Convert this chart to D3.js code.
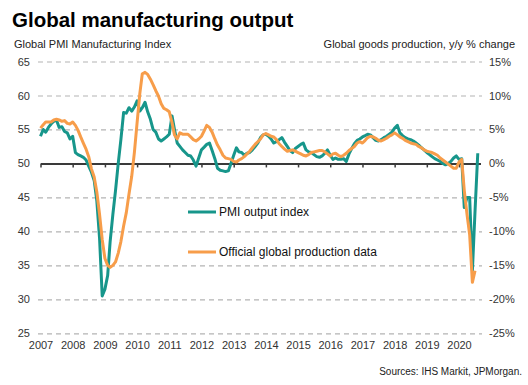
<!DOCTYPE html>
<html>
<head>
<meta charset="utf-8">
<script src="https://cdn.jsdelivr.net/npm/d3@7"></script>
<style>
  body { margin: 0; background: #fff; }
  svg { font-family: "Liberation Sans", Arial, sans-serif; }
</style>
</head>
<body>
<svg id="chart" width="528" height="385"></svg>
<script>
// monthly, from Jan 2007
var pmiOutput = [
  54.0, 55.0, 54.6, 55.3, 55.8, 56.2, 56.4, 55.3, 55.4, 54.7, 54.5, 53.6,
  54.0, 51.6, 51.3, 51.1, 50.9, 50.5, 49.6, 48.7, 47.5, 44.5, 39.0, 30.5,
  31.5, 33.5, 38.5, 42.5, 46.0, 50.0, 53.5, 57.5, 57.4, 58.2, 57.7, 58.3,
  59.2, 57.7, 58.2, 59.0, 57.6, 56.5, 55.0, 54.6, 53.6, 53.3, 53.6, 53.9,
  54.3, 57.0, 55.0, 53.0, 52.5, 52.0, 51.6, 51.2, 51.1, 50.5, 49.6, 50.8,
  52.0, 52.4, 52.8, 53.0, 51.9, 50.7, 49.3, 49.0, 48.9, 48.8, 48.9, 50.0,
  51.2, 52.3, 51.7, 51.6, 51.2, 51.5, 51.6, 52.0, 52.5, 53.0, 53.8, 54.2,
  54.3, 54.0, 53.6, 53.0, 53.2, 53.5, 53.8, 53.1, 52.5, 51.9, 51.6, 52.2,
  52.5, 52.8, 53.0, 52.0, 51.7, 51.6, 51.3, 51.0, 50.9, 51.1, 51.5, 52.0,
  51.2, 50.6, 50.8, 50.6, 50.6, 50.7, 50.3, 51.4, 52.2, 52.9, 53.4, 53.6,
  53.9, 54.1, 54.3, 54.2, 53.8, 53.4, 53.3, 53.5, 53.8, 54.0, 54.3, 54.6,
  55.2, 55.6, 54.5, 54.1, 53.8, 53.6, 53.5, 53.3, 53.0, 52.7, 52.3, 52.0,
  51.6, 51.3, 51.0, 50.7, 50.5, 50.3, 50.0, 49.8, 50.0, 50.3, 50.8, 51.1,
  50.6, 50.7, 43.5, 45.0, 45.0, 34.2, 43.0, 51.5
];

// y/y % change, monthly from Jan 2007
var officialProd = [
  5.2, 5.7, 6.1, 6.1, 6.1, 6.4, 6.5, 6.4, 6.2, 6.3, 5.9, 5.8,
  6.1, 5.6, 4.9, 3.9, 3.0, 2.1, 1.0, -0.8, -2.0, -4.2, -7.5, -11.2,
  -14.0, -15.0, -15.3, -15.0, -14.5, -13.2, -11.5, -9.2, -7.2, -4.5, -1.9, 1.6,
  6.0, 10.3, 13.2, 13.4, 13.1, 12.4, 11.6, 10.7, 9.9, 8.8, 8.1, 7.9,
  7.6, 6.0, 4.2, 3.6, 4.5, 4.3, 4.3, 4.3, 3.9, 3.5, 3.3, 3.6,
  4.0, 4.8, 5.6, 5.3, 4.6, 3.6, 2.7, 2.0, 1.2, 0.8, 0.7, 0.6,
  0.3, 0.2, 0.5, 0.7, 1.0, 1.4, 1.8, 2.3, 2.8, 3.2, 3.6, 4.2,
  4.4, 4.2, 4.0, 3.9, 3.5, 2.9, 2.5, 2.1, 1.8, 1.9, 2.0, 1.8,
  1.6, 1.4, 1.2, 1.1, 1.3, 1.6, 1.7, 1.8, 1.9, 1.9, 1.7, 1.4,
  1.1, 1.4, 1.5, 1.2, 1.0, 1.2, 1.5, 1.9, 2.2, 2.5, 3.0, 3.2,
  3.0, 3.4, 3.8, 4.0, 3.9, 3.7, 3.4, 3.3, 3.5, 3.7, 4.0, 4.2,
  4.5, 4.2, 3.9, 3.7, 3.4, 3.2, 3.0, 2.9, 2.8, 2.5, 2.3, 2.0,
  1.8, 1.7, 1.6, 1.4, 1.2, 0.8, 0.5, 0.2, -0.1, -0.4, -0.7, -0.7,
  0.2, 0.6, -4.0, -7.5, -10.5, -17.5, -15.8
];

var yearTicks = [2007, 2008, 2009, 2010, 2011, 2012, 2013, 2014, 2015, 2016, 2017, 2018, 2019, 2020];
var leftTicks = [25, 30, 35, 40, 45, 50, 55, 60, 65];
var rightTicks = [-25, -20, -15, -10, -5, 0, 5, 10, 15];
var seriesNames = ['PMI output index', 'Official global production data'];

var teal = '#17968b';
var orange = '#f79d4a';

var svg = d3.select('#chart');

function monthDate(i) {
  return new Date(2007, i, 1);
}

var xScale = d3.scaleTime()
  .domain([new Date(2007, 0, 1), new Date(2020, 8, 1)])
  .range([40.5, 480.5]);

var yLeft = d3.scaleLinear().domain([25, 65]).range([333.3, 61.5]);
var yRight = d3.scaleLinear().domain([-25, 15]).range([333.3, 61.5]);

// titles
svg.append('text')
  .attr('x', 12).attr('y', 27)
  .style('font-size', '20.5px').style('font-weight', 'bold')
  .attr('fill', '#000')
  .text('Global manufacturing output');

svg.append('text')
  .attr('x', 14).attr('y', 48)
  .style('font-size', '11px').attr('fill', '#222')
  .text('Global PMI Manufacturing Index');

svg.append('text')
  .attr('x', 515).attr('y', 48)
  .attr('text-anchor', 'end')
  .style('font-size', '11px').attr('fill', '#222')
  .text('Global goods production, y/y % change');

// left axis + gridlines
var gLeft = svg.append('g')
  .attr('transform', 'translate(38,0)')
  .call(d3.axisLeft(yLeft).tickValues(leftTicks).tickSize(-444).tickPadding(8));
gLeft.select('.domain').remove();
gLeft.selectAll('.tick line')
  .attr('stroke', '#b4b4b4')
  .attr('stroke-dasharray', '5,4')
  .attr('stroke-width', 1.2)
  .filter(function (d) { return d === 50; }).remove();
gLeft.selectAll('.tick text')
  .style('font-size', '11px').attr('fill', '#333');

// right axis
var gRight = svg.append('g')
  .attr('transform', 'translate(482,0)')
  .call(d3.axisRight(yRight).tickValues(rightTicks).tickSize(0).tickPadding(7)
    .tickFormat(function (d) { return d + '%'; }));
gRight.select('.domain').remove();
gRight.selectAll('.tick text')
  .style('font-size', '11px').attr('fill', '#333');

// axis at 50 with year ticks
var yearDates = yearTicks.map(function (y) { return new Date(y, 0, 1); });
var gAxis = svg.append('g')
  .attr('transform', 'translate(0,' + yLeft(50) + ')')
  .call(d3.axisBottom(xScale).tickValues(yearDates).tickSize(4).tickSizeOuter(0).tickFormat(''));
gAxis.select('.domain').attr('stroke', '#3a3a3a').attr('stroke-width', 2);
gAxis.selectAll('.tick line').attr('stroke', '#3a3a3a').attr('stroke-width', 1.5);

// year labels at bottom
var gYears = svg.append('g')
  .attr('transform', 'translate(0,337)')
  .call(d3.axisBottom(xScale).tickValues(yearDates).tickSize(0).tickPadding(4)
    .tickFormat(d3.timeFormat('%Y')));
gYears.select('.domain').remove();
gYears.selectAll('.tick text')
  .style('font-size', '11px').attr('fill', '#333');

// lines
var pmiLine = d3.line()
  .x(function (d, i) { return xScale(monthDate(i)); })
  .y(function (d) { return yLeft(d); });

var prodLine = d3.line()
  .x(function (d, i) { return xScale(monthDate(i)); })
  .y(function (d) { return yRight(d); });

svg.append('path')
  .datum(pmiOutput)
  .attr('fill', 'none')
  .attr('stroke', teal)
  .attr('stroke-width', 3)
  .attr('stroke-linejoin', 'round')
  .attr('d', pmiLine);

svg.append('path')
  .datum(officialProd)
  .attr('fill', 'none')
  .attr('stroke', orange)
  .attr('stroke-width', 3)
  .attr('stroke-linejoin', 'round')
  .attr('d', prodLine);

// legend
var legend = svg.append('g').attr('transform', 'translate(188,212)');
[teal, orange].forEach(function (c, i) {
  legend.append('line')
    .attr('x1', 0).attr('x2', 28)
    .attr('y1', i * 40).attr('y2', i * 40)
    .attr('stroke', c).attr('stroke-width', 3);
  legend.append('text')
    .attr('x', 31).attr('y', i * 40).attr('dy', '0.35em')
    .style('font-size', '12px').attr('fill', '#111')
    .text(seriesNames[i]);
});

// source
svg.append('text')
  .attr('x', 522).attr('y', 375)
  .attr('text-anchor', 'end')
  .style('font-size', '10px').attr('fill', '#222')
  .text('Sources: IHS Markit, JPMorgan.');
</script>
</body>
</html>
